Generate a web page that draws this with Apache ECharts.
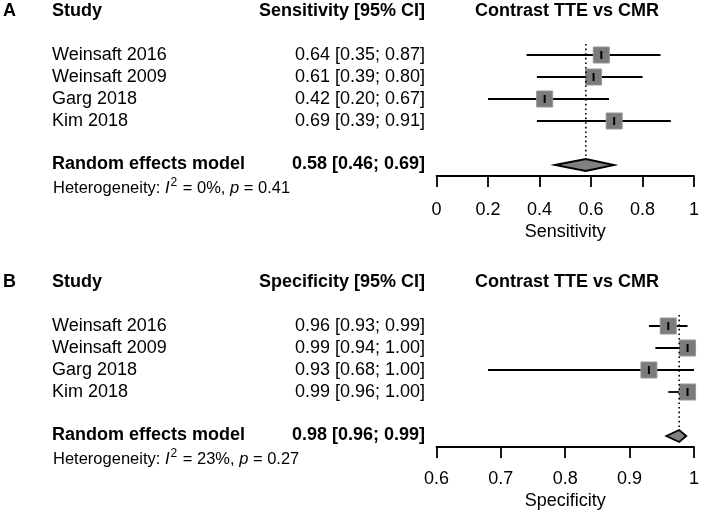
<!DOCTYPE html>
<html>
<head>
<meta charset="utf-8">
<script src="https://cdn.jsdelivr.net/npm/echarts@6/dist/echarts.min.js"></script>
<style>
  html, body { margin: 0; padding: 0; background: #fff; }
  #chart { width: 702px; height: 516px; }
</style>
</head>
<body>
<div id="chart"></div>
<script>
// studies, same order in both panels
const studies = ['Weinsaft 2016', 'Weinsaft 2009', 'Garg 2018', 'Kim 2018'];

// panel A: sensitivity
const sensEst = [0.64, 0.61, 0.42, 0.69];
const sensLow = [0.35, 0.39, 0.20, 0.39];
const sensHigh = [0.87, 0.80, 0.67, 0.91];
const sensPooled = [0.58, 0.46, 0.69];   // est, low, high
const sensHet = ['0%', '0.41'];          // I^2, p
const sensTicks = [0, 0.2, 0.4, 0.6, 0.8, 1];

// panel B: specificity
const specEst = [0.96, 0.99, 0.93, 0.99];
const specLow = [0.93, 0.94, 0.68, 0.96];
const specHigh = [0.99, 1.00, 1.00, 1.00];
const specPooled = [0.977, 0.957, 0.988];
const specHet = ['23%', '0.27'];
const specTicks = [0.6, 0.7, 0.8, 0.9, 1];

const FONT = '"Liberation Sans", Arial, Helvetica, sans-serif';
const POOLED_ROW = 5;

// panels share the same layout, only the top offset differs
const panels = [
  { letter: 'A', top: 0, measure: 'Sensitivity', est: sensEst, low: sensLow, high: sensHigh,
    pooled: sensPooled, het: sensHet, ticks: sensTicks, labelMargin: 25, nameGap: 47 },
  { letter: 'B', top: 271, measure: 'Specificity', est: specEst, low: specLow, high: specHigh,
    pooled: specPooled, het: specHet, ticks: specTicks, labelMargin: 23, nameGap: 45 }
];

const fmt = v => v.toFixed(2);
const ciText = (e, l, h) => `${fmt(e)} [${fmt(l)}; ${fmt(h)}]`;

function textEl(x, y, text, opts) {
  return {
    type: 'text', x: x, y: y,
    style: Object.assign({
      text: text, fill: '#000', font: '18px ' + FONT,
      verticalAlign: 'middle', align: 'left'
    }, opts || {})
  };
}

function studyRenderer(p) {
  return function (params, api) {
    const est = api.value(0), lo = api.value(1), hi = api.value(2), row = api.value(3);
    const c = api.coord([est, row]);
    const l = api.coord([lo, row]);
    const h = api.coord([hi, row]);
    const s = 16;
    return {
      type: 'group',
      children: [
        { type: 'line', shape: { x1: l[0], y1: c[1], x2: h[0], y2: c[1] },
          style: { stroke: '#000', lineWidth: 1.8 } },
        { type: 'rect', shape: { x: c[0] - s / 2, y: c[1] - s / 2, width: s, height: s },
          style: { fill: '#7b7b7b', stroke: '#959595', lineWidth: 1 } },
        { type: 'line', shape: { x1: c[0], y1: c[1] - 4, x2: c[0], y2: c[1] + 4 },
          style: { stroke: '#000', lineWidth: 2 } },
        textEl(52, c[1], studies[params.dataIndex]),
        textEl(425, c[1], ciText(est, lo, hi), { align: 'right' })
      ]
    };
  };
}

function pooledRenderer(p) {
  return function (params, api) {
    const est = api.value(0), lo = api.value(1), hi = api.value(2), row = api.value(3);
    const c = api.coord([est, row]);
    const l = api.coord([lo, row]);
    const h = api.coord([hi, row]);
    const top = api.coord([est, -0.5]);
    const dh = 6;
    return {
      type: 'group',
      children: [
        { type: 'line', shape: { x1: c[0], y1: top[1], x2: c[0], y2: c[1] - dh },
          style: { stroke: '#000', lineWidth: 1.6, lineDash: [1.6, 3] } },
        { type: 'polygon',
          shape: { points: [[l[0], c[1]], [c[0], c[1] - dh], [h[0], c[1]], [c[0], c[1] + dh]] },
          style: { fill: '#808080', stroke: '#000', lineWidth: 1.8 } },
        textEl(52, c[1] - 1, 'Random effects model', { font: 'bold 18px ' + FONT }),
        textEl(425, c[1] - 1, ciText(est, lo, hi), { font: 'bold 18px ' + FONT, align: 'right' })
      ]
    };
  };
}

const grids = [], xAxes = [], yAxes = [], series = [], graphics = [];

panels.forEach((p, i) => {
  grids.push({ left: 436.5, width: 261.8, top: p.top, height: 176 });
  xAxes.push({
    type: 'value', gridIndex: i, position: 'bottom',
    min: p.ticks[0], max: p.ticks[p.ticks.length - 1],
    interval: Math.round((p.ticks[1] - p.ticks[0]) * 10) / 10,
    name: p.measure, nameLocation: 'middle', nameGap: p.nameGap,
    nameTextStyle: { color: '#000', fontSize: 18, fontFamily: FONT },
    splitLine: { show: false },
    axisLine: { show: true, onZero: false, lineStyle: { color: '#000', width: 1.8 } },
    axisTick: { show: true, length: 11, lineStyle: { color: '#000', width: 1.8 } },
    axisLabel: { color: '#000', fontSize: 18, fontFamily: FONT, margin: p.labelMargin,
      formatter: v => String(Math.round(v * 10) / 10) }
  });
  yAxes.push({ type: 'value', gridIndex: i, inverse: true, min: -2.5, max: 5.5, show: false });

  series.push({
    type: 'custom', xAxisIndex: i, yAxisIndex: i, clip: false, silent: true,
    renderItem: studyRenderer(p),
    data: p.est.map((e, k) => [e, p.low[k], p.high[k], k])
  });
  series.push({
    type: 'custom', xAxisIndex: i, yAxisIndex: i, clip: false, silent: true,
    renderItem: pooledRenderer(p),
    data: [[p.pooled[0], p.pooled[1], p.pooled[2], POOLED_ROW]]
  });

  const bold = 'bold 18px ' + FONT;
  const hy = p.top + 11;
  graphics.push(textEl(3, hy, p.letter, { font: bold }));
  graphics.push(textEl(52, hy, 'Study', { font: bold }));
  graphics.push(textEl(425, hy, p.measure + ' [95% CI]', { font: bold, align: 'right' }));
  graphics.push(textEl(567, hy, 'Contrast TTE vs CMR', { font: bold, align: 'center' }));
  graphics.push({
    type: 'text', x: 53, y: p.top + 188,
    style: {
      text: 'Heterogeneity: {i|I}{sup|2} = ' + p.het[0] + ', {i|p} = ' + p.het[1],
      fill: '#000', font: '16.5px ' + FONT, verticalAlign: 'middle',
      rich: {
        i: { fontStyle: 'italic', fontSize: 16.5, fontFamily: FONT, fill: '#000' },
        sup: { fontSize: 12, fontFamily: FONT, fill: '#000', padding: [0, 1, 10, 1] }
      }
    }
  });
});

const chart = echarts.init(document.getElementById('chart'), null, { renderer: 'canvas' });
chart.setOption({
  animation: false,
  backgroundColor: '#fff',
  grid: grids,
  xAxis: xAxes,
  yAxis: yAxes,
  series: series,
  graphic: graphics
});
</script>
</body>
</html>
